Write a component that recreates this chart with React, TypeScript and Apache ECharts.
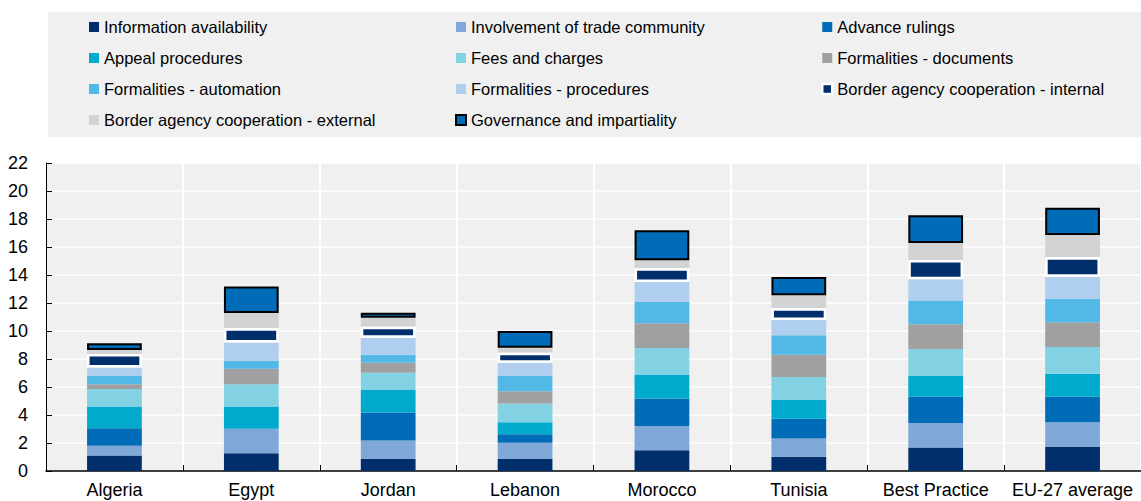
import React, { useEffect, useRef } from "react";
import * as echarts from "echarts";

const categories = ["Algeria", "Egypt", "Jordan", "Lebanon", "Morocco", "Tunisia", "Best Practice", "EU-27 average"];

const informationAvailability = [1.10, 1.26, 0.88, 0.86, 1.48, 1.02, 1.67, 1.71];
const involvementTradeCommunity = [0.71, 1.76, 1.29, 1.16, 1.73, 1.31, 1.76, 1.77];
const advanceRulings = [1.24, 0, 2.00, 0.60, 1.96, 1.41, 1.88, 1.83];
const appealProcedures = [1.55, 1.58, 1.62, 0.86, 1.69, 1.33, 1.52, 1.64];
const feesAndCharges = [1.26, 1.59, 1.23, 1.35, 1.93, 1.64, 1.88, 1.91];
const formalitiesDocuments = [0.33, 1.12, 0.72, 0.86, 1.76, 1.60, 1.77, 1.76];
const formalitiesAutomation = [0.60, 0.57, 0.57, 1.10, 1.52, 1.38, 1.69, 1.69];
const formalitiesProcedures = [0.61, 1.29, 1.21, 0.95, 1.43, 1.10, 1.52, 1.57];
const borderInternal = [0.96, 1.02, 0.79, 0.71, 0.98, 0.83, 1.38, 1.38];
const borderExternal = [0.28, 1.10, 0.64, 0.36, 0.57, 0.93, 1.22, 1.60];
const governance = [0.48, 1.88, 0.36, 1.19, 2.14, 1.31, 1.97, 1.95];

const yMin = 0;
const yMax = 22;
const yInterval = 2;

const FONT = "Arial, 'Liberation Sans', sans-serif";

type S = { name: string; data: number[]; color: string; borderColor?: string; borderWidth?: number; z?: number };

const seriesDefs: S[] = [
  { name: "Information availability", data: informationAvailability, color: "#002f6c" },
  { name: "Involvement of trade community", data: involvementTradeCommunity, color: "#7fa8d9" },
  { name: "Advance rulings", data: advanceRulings, color: "#006bb6" },
  { name: "Appeal procedures", data: appealProcedures, color: "#00aacc" },
  { name: "Fees and charges", data: feesAndCharges, color: "#83d2e3" },
  { name: "Formalities - documents", data: formalitiesDocuments, color: "#a0a0a0" },
  { name: "Formalities - automation", data: formalitiesAutomation, color: "#52b8e6" },
  { name: "Formalities - procedures", data: formalitiesProcedures, color: "#b0cfee" },
  { name: "Border agency cooperation - internal", data: borderInternal, color: "#002f6c", borderColor: "#ffffff", borderWidth: 2.5, z: 3 },
  { name: "Border agency cooperation - external", data: borderExternal, color: "#d3d3d3" },
  { name: "Governance and impartiality", data: governance, color: "#006bb6", borderColor: "#000000", borderWidth: 2, z: 4 },
];

const legendColumns = [
  ["Information availability", "Appeal procedures", "Formalities - automation", "Border agency cooperation - external"],
  ["Involvement of trade community", "Fees and charges", "Formalities - procedures", "Governance and impartiality"],
  ["Advance rulings", "Formalities - documents", "Border agency cooperation - internal"],
];
const legendLefts = [89, 455, 821];

export default function App() {
  const ref = useRef<HTMLDivElement>(null);
  useEffect(() => {
    if (!ref.current) return;
    const chart = echarts.init(ref.current, null, { renderer: "svg" });
    const legendItem = (name: string) =>
      name === "Border agency cooperation - internal"
        ? { name, itemStyle: { color: "#002f6c", borderColor: "#ffffff", borderWidth: 2.5 } }
        : name === "Governance and impartiality"
        ? { name, itemStyle: { color: "#006bb6", borderColor: "#000000", borderWidth: 2 } }
        : { name };
    const option: any = {
      animation: false,
      backgroundColor: "#ffffff",
      textStyle: { fontFamily: FONT },
      graphic: [
        {
          type: "rect",
          z: -10,
          shape: { x: 48, y: 12, width: 1100, height: 125 },
          style: { fill: "#f0f0f0" },
          silent: true,
        },
      ],
      legend: legendColumns.map((col, i) => ({
        orient: "vertical",
        left: legendLefts[i],
        top: 17,
        padding: 0,
        itemGap: 11,
        itemWidth: 10,
        itemHeight: 10,
        icon: "rect",
        selectedMode: false,
        data: col.map(legendItem),
        textStyle: { fontSize: 16.5, lineHeight: 20, color: "#000", fontFamily: FONT, padding: [0, 0, 0, 0] },
      })),
      grid: {
        left: 46,
        right: -9,
        top: 163,
        bottom: 30,
        show: true,
        backgroundColor: "#f0f0f0",
        borderWidth: 0,
      },
      xAxis: {
        type: "category",
        data: categories,
        axisLine: { show: true, lineStyle: { color: "#000", width: 1.5 } },
        axisTick: { show: true, inside: true, length: 6, lineStyle: { color: "#000", width: 1 } },
        axisLabel: { interval: 0, fontSize: 18, color: "#000", margin: 10, fontFamily: FONT },
        splitLine: { show: true, lineStyle: { color: "#ffffff", width: 2 } },
      },
      yAxis: {
        type: "value",
        min: yMin,
        max: yMax,
        interval: yInterval,
        axisLine: { show: true, lineStyle: { color: "#000", width: 1 } },
        axisTick: { show: true, inside: true, length: 6, lineStyle: { color: "#000", width: 1 } },
        axisLabel: { fontSize: 18, color: "#000", margin: 18, fontFamily: FONT },
        splitLine: { show: true, lineStyle: { color: "#ffffff", width: 1.5 } },
      },
      series: seriesDefs.map((s) => ({
        name: s.name,
        type: "bar",
        stack: "total",
        barWidth: "40%",
        data: s.data,
        z: s.z ?? 2,
        itemStyle: {
          color: s.color,
          borderColor: s.borderColor ?? s.color,
          borderWidth: s.borderWidth ?? 0,
        },
        emphasis: { disabled: true },
      })),
    };
    chart.setOption(option);
    return () => chart.dispose();
  }, []);
  return (
    <div
      ref={ref}
      style={{ position: "absolute", left: 0, top: 0, width: 1141, height: 501 }}
    />
  );
}
